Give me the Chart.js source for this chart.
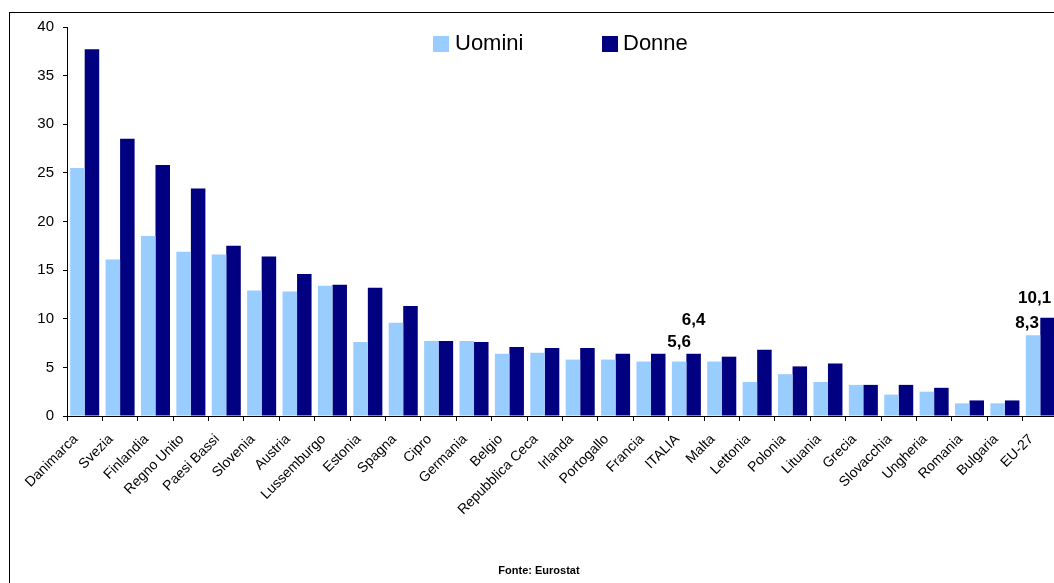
<!DOCTYPE html>
<html>
<head>
<meta charset="utf-8">
<script src="https://cdn.jsdelivr.net/npm/chart.js@4.4.1/dist/chart.umd.min.js"></script>
<style>
  html, body { margin: 0; padding: 0; overflow: hidden; background: #fff; width: 1054px; height: 583px; }
  #frame { position: absolute; left: 9px; top: 12px; width: 1100px; height: 620px; border: 1px solid #000; box-sizing: border-box; }
  #c { position: absolute; left: 0; top: 0; }
</style>
</head>
<body>
<div id="frame"></div>
<canvas id="c" width="1070" height="583"></canvas>
<script>
// ---- Data ----
const categories = ["Danimarca", "Svezia", "Finlandia", "Regno Unito", "Paesi Bassi", "Slovenia", "Austria",
  "Lussemburgo", "Estonia", "Spagna", "Cipro", "Germania", "Belgio", "Repubblica Ceca", "Irlanda",
  "Portogallo", "Francia", "ITALIA", "Malta", "Lettonia", "Polonia", "Lituania", "Grecia", "Slovacchia",
  "Ungheria", "Romania", "Bulgaria", "EU-27"];
const uomini = [25.5, 16.1, 18.5, 16.9, 16.6, 12.9, 12.8, 13.4, 7.6, 9.6, 7.7, 7.7, 6.4, 6.5, 5.8,
  5.8, 5.6, 5.6, 5.6, 3.5, 4.3, 3.5, 3.2, 2.2, 2.5, 1.3, 1.3, 8.3];
const donne = [37.7, 28.5, 25.8, 23.4, 17.5, 16.4, 14.6, 13.5, 13.2, 11.3, 7.7, 7.6, 7.1, 7.0, 7.0,
  6.4, 6.4, 6.4, 6.1, 6.8, 5.1, 5.4, 3.2, 3.2, 2.9, 1.6, 1.6, 10.1];
const yTicks = [0, 5, 10, 15, 20, 25, 30, 35, 40];
const seriesNames = ["Uomini", "Donne"];
const sourceText = "Fonte: Eurostat";
// which values carry a printed label: [seriesIndex, categoryIndex]
const labelledPoints = [[0, 17], [1, 17], [0, 27], [1, 27]];

// ---- Styles ----
const FONT = "'Liberation Sans', Arial, Helvetica, sans-serif";
Chart.defaults.font.family = FONT;
Chart.defaults.color = '#000';
const colors = ['#99CCFF', '#000080'];
// label placement offsets relative to the top-centre of each bar
const labelOffsets = [[0, -19], [0, -33], [-6, -12], [-13, -19]];

const fmt = v => v.toFixed(1).replace('.', ',');

const legendPlugin = {
  id: 'innerLegend',
  afterDraw(chart) {
    const ctx = chart.ctx;
    const items = [{ box: 433, text: 455 }, { box: 602, text: 623 }];
    ctx.save();
    ctx.font = '22px ' + FONT;
    ctx.textBaseline = 'middle';
    ctx.textAlign = 'left';
    chart.data.datasets.forEach((ds, i) => {
      ctx.fillStyle = ds.backgroundColor;
      ctx.fillRect(items[i].box, 36, 16, 16);
      ctx.fillStyle = '#000';
      ctx.fillText(ds.label, items[i].text, 44);
    });
    ctx.restore();
  }
};

const valueLabelPlugin = {
  id: 'valueLabels',
  afterDatasetsDraw(chart) {
    const ctx = chart.ctx;
    ctx.save();
    ctx.font = 'bold 17px ' + FONT;
    ctx.textAlign = 'center';
    ctx.textBaseline = 'middle';
    ctx.fillStyle = '#000';
    labelledPoints.forEach(([s, i], k) => {
      const el = chart.getDatasetMeta(s).data[i];
      const v = chart.data.datasets[s].data[i];
      ctx.fillText(fmt(v), el.x + labelOffsets[k][0], el.y + labelOffsets[k][1]);
    });
    ctx.restore();
  }
};

new Chart(document.getElementById('c'), {
  type: 'bar',
  data: {
    labels: categories,
    datasets: [
      { label: seriesNames[0], data: uomini, backgroundColor: colors[0], borderWidth: 0, categoryPercentage: 0.82, barPercentage: 1.0 },
      { label: seriesNames[1], data: donne, backgroundColor: colors[1], borderWidth: 0, categoryPercentage: 0.82, barPercentage: 1.0 }
    ]
  },
  options: {
    responsive: false,
    animation: false,
    devicePixelRatio: 1,
    layout: { padding: { left: 20, top: 27, right: 12, bottom: 0 } },
    plugins: {
      legend: { display: false },
      tooltip: { enabled: false },
      title: {
        display: true,
        position: 'bottom',
        text: sourceText,
        color: '#000',
        font: { size: 11, weight: 'bold', family: FONT, lineHeight: 1.2 },
        padding: { top: 0, bottom: 5 }
      }
    },
    scales: {
      x: {
        offset: true,
        grid: { display: true, drawOnChartArea: false, drawTicks: true, tickLength: 5, color: '#000', offset: true },
        border: { display: true, color: '#000', width: 1 },
        ticks: { autoSkip: false, maxRotation: 45, minRotation: 45, font: { size: 14 }, color: '#000', padding: 10, labelOffset: -9 },
        afterFit(scale) { scale.height = 583 - 416 - 11 * 1.2 - 5; }
      },
      y: {
        min: 0,
        max: 40,
        afterBuildTicks(scale) { scale.ticks = yTicks.map(v => ({ value: v })); },
        grid: { display: true, drawOnChartArea: false, drawTicks: true, tickLength: 4, color: '#000' },
        border: { display: true, color: '#000', width: 1 },
        ticks: { font: { size: 15 }, color: '#000', padding: 9 },
        afterFit(scale) { scale.width = 47; }
      }
    }
  },
  plugins: [legendPlugin, valueLabelPlugin]
});
</script>
</body>
</html>
